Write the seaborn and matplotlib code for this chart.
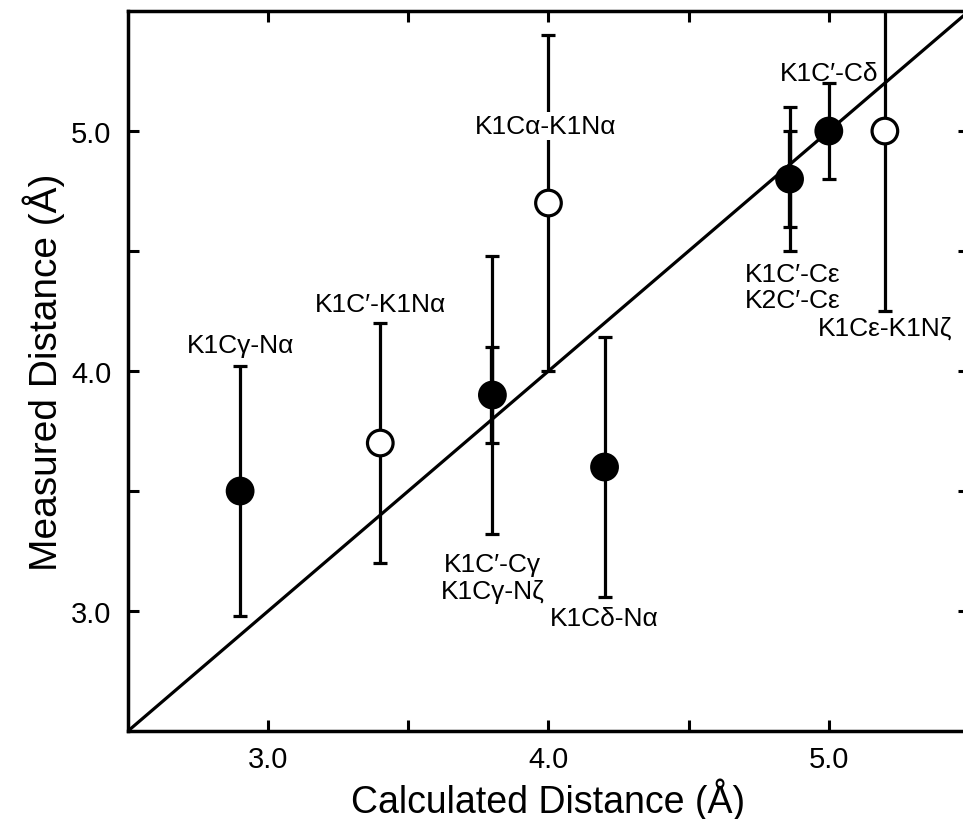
import matplotlib
matplotlib.use("Agg")
import matplotlib.pyplot as plt
import seaborn as sns
import pandas as pd

# ---- data ----
labels = ["K1Cγ-Nα", "K1C′-K1Nα", "K1C′-Cγ\nK1Cγ-Nζ", "K1Cα-K1Nα",
          "K1Cδ-Nα", "K1C′-Cε\nK2C′-Cε", "K1C′-Cδ", "K1Cε-K1Nζ"]
calculated = [2.9, 3.4, 3.8, 4.0, 4.2, 4.86, 5.0, 5.2]
measured = [3.5, 3.7, 3.9, 4.7, 3.6, 4.8, 5.0, 5.0]
error = [0.52, 0.50, 0.58, 0.70, 0.54, 0.30, 0.20, 0.75]
error_second = [None, None, 0.20, None, None, 0.20, None, None]
filled = [True, False, True, False, True, True, True, False]
label_x = [2.9, 3.4, 3.8, 3.99, 4.2, 4.87, 5.0, 5.2]
label_y = [4.11, 4.28, 3.14, 5.02, 2.97, 4.35, 5.24, 4.18]
xticks = [3.0, 4.0, 5.0]
yticks = [3.0, 4.0, 5.0]
minor_ticks = [3.5, 4.5]
diag = [2.5, 5.5]

df = pd.DataFrame({"calc": calculated, "meas": measured, "err": error,
                   "filled": ["filled" if f else "open" for f in filled]})

sns.set_style("white")
plt.rcParams["font.family"] = ["Liberation Sans", "DejaVu Sans"]
plt.rcParams["text.color"] = "black"
plt.rcParams["axes.labelcolor"] = "black"
plt.rcParams["xtick.color"] = "black"
plt.rcParams["ytick.color"] = "black"

fig = plt.figure(figsize=(9.63, 8.2), dpi=100)
ax = fig.add_axes([0.1329, 0.1073, 0.8733, 0.878])

# diagonal line
sns.lineplot(x=diag, y=diag, ax=ax, color="black", linewidth=2.3, zorder=2)

# error bars
lw = 2.3
ax.errorbar(df["calc"], df["meas"], yerr=df["err"], fmt="none",
            ecolor="black", elinewidth=lw, capsize=5, capthick=lw, zorder=3)
for x, y, e in zip(calculated, measured, error_second):
    if e is not None:
        ax.errorbar([x], [y], yerr=[e], fmt="none", ecolor="black",
                    elinewidth=lw + 0.8, capsize=5, capthick=lw, zorder=3)

# points
sns.scatterplot(data=df, x="calc", y="meas", hue="filled",
                palette={"filled": "black", "open": "white"},
                edgecolor="black", linewidth=2.3, s=340, legend=False,
                ax=ax, zorder=5)

# annotations
for lab, lx, ly in zip(labels, label_x, label_y):
    kw = {}
    if lab == "K1Cα-K1Nα":
        kw["bbox"] = dict(facecolor="white", edgecolor="none", pad=1.5)
    ax.text(lx, ly, lab, ha="center", va="center", fontsize=19,
            linespacing=1.15, zorder=6, color="black", **kw)

ax.set_xlim(2.5, 5.5)
ax.set_ylim(2.5, 5.5)
ax.set_xticks(xticks)
ax.set_yticks(yticks)
ax.set_xticklabels([f"{t:.1f}" for t in xticks])
ax.set_yticklabels([f"{t:.1f}" for t in yticks])
ax.set_xticks(minor_ticks, minor=True)
ax.set_yticks(minor_ticks, minor=True)
ax.tick_params(which="both", direction="in", length=8, width=2.2,
               top=True, right=True, bottom=True, left=True,
               labelsize=21, color="black", labelcolor="black")
ax.tick_params(axis="x", pad=10)
ax.tick_params(axis="y", pad=12)
for sp in ax.spines.values():
    sp.set_linewidth(2.5)
    sp.set_color("black")

ax.set_xlabel("Calculated Distance (Å)", fontsize=27, labelpad=3,
              color="black")
ax.set_ylabel("Measured Distance (Å)", fontsize=28, labelpad=4,
              color="black")

fig.savefig("out.png", dpi=100, facecolor="white")
